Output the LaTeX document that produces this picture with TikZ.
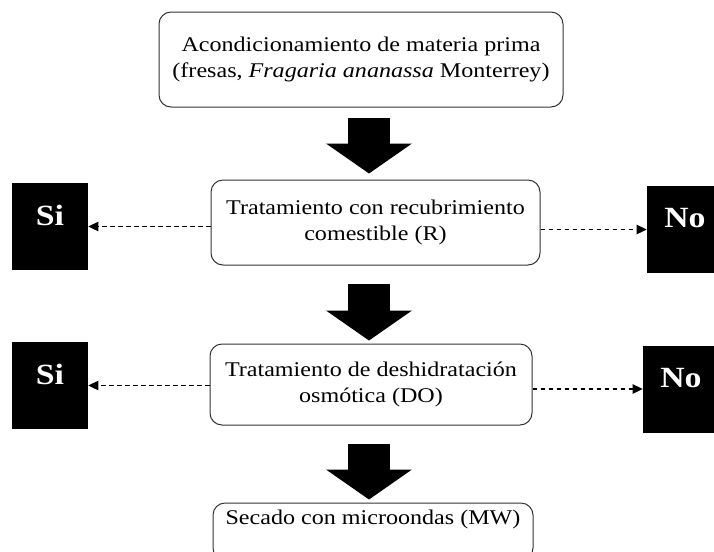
\documentclass[tikz,border=0pt]{standalone}
\usepackage{fontspec}
\setmainfont[FakeStretch=1.15]{Liberation Serif}
\usetikzlibrary{arrows.meta}

\tikzset{
  etapa/.style={draw=black!80, line width=0.75pt, rounded corners=9pt, align=center, inner sep=0pt,
    font=\fontsize{15.7}{19.5}\selectfont},
  respuesta/.style={fill=black, text=white, minimum width=57pt, minimum height=65.25pt, text depth=17pt,
    font=\fontsize{22}{26}\selectfont\bfseries},
  rama/.style={dash pattern=on 3.5pt off 2.5pt, line width=0.9pt, -{Triangle[length=7.5pt,width=7pt]}},
  flecha/.style={line width=31.5pt, -{Triangle[length=22.5pt,width=64.5pt,line width=0pt]}}
}

\begin{document}
\begin{tikzpicture}[x=0.75pt,y=0.75pt,yscale=-1,xscale=1]
    \useasboundingbox (0,0) rectangle (714,551);
    \coordinate (eje) at (369,0);
    % Etapas
    \node[etapa, minimum width=303pt, minimum height=71.25pt] (b1) at (361,59.5)
      {Acondicionamiento de materia prima\\(fresas, \textit{Fragaria ananassa} Monterrey)};
    \node[etapa, minimum width=246.75pt, minimum height=63.75pt] (b2) at (375.5,222.5)
      {Tratamiento con recubrimiento\\comestible (R)};
    \node[etapa, minimum width=241.5pt, minimum height=60.75pt] (b3) at (371,384.5)
      {Tratamiento de deshidratación\\osmótica (DO)};
    \node[etapa, minimum width=240pt, text height=15.75pt, text depth=27pt] (b4) at (373,531.5)
      {Secado con microondas (MW)};
    % Respuestas
    \node[respuesta] (si1) at (50,226.5) {Si};
    \node[respuesta] (no1) at (685,229.5) {No};
    \node[respuesta] (si2) at (50,385.5) {Si};
    \node[respuesta] (no2) at (681,389) {No};
    % Flechas grandes
    \draw[flecha, shorten <=7.5pt, shorten >=4.5pt] (b1.south -| eje) -- (b2.north -| eje);
    \draw[flecha, shorten <=13.5pt, shorten >=2.25pt] (b2.south -| eje) -- (b3.north -| eje);
    \draw[flecha, shorten <=13.5pt, shorten >=2.25pt] (b3.south -| eje) -- (b4.north -| eje);
    % Ramas punteadas
    \draw[rama] (si1.east -| b2.west) -- (si1.east);
    \draw[rama] (no1.west -| b2.east) -- (no1.west);
    \draw[rama] (si2.east -| b3.west) -- (si2.east);
    \draw[rama] (no2.west -| b3.east) -- (no2.west);
\end{tikzpicture}
\end{document}
